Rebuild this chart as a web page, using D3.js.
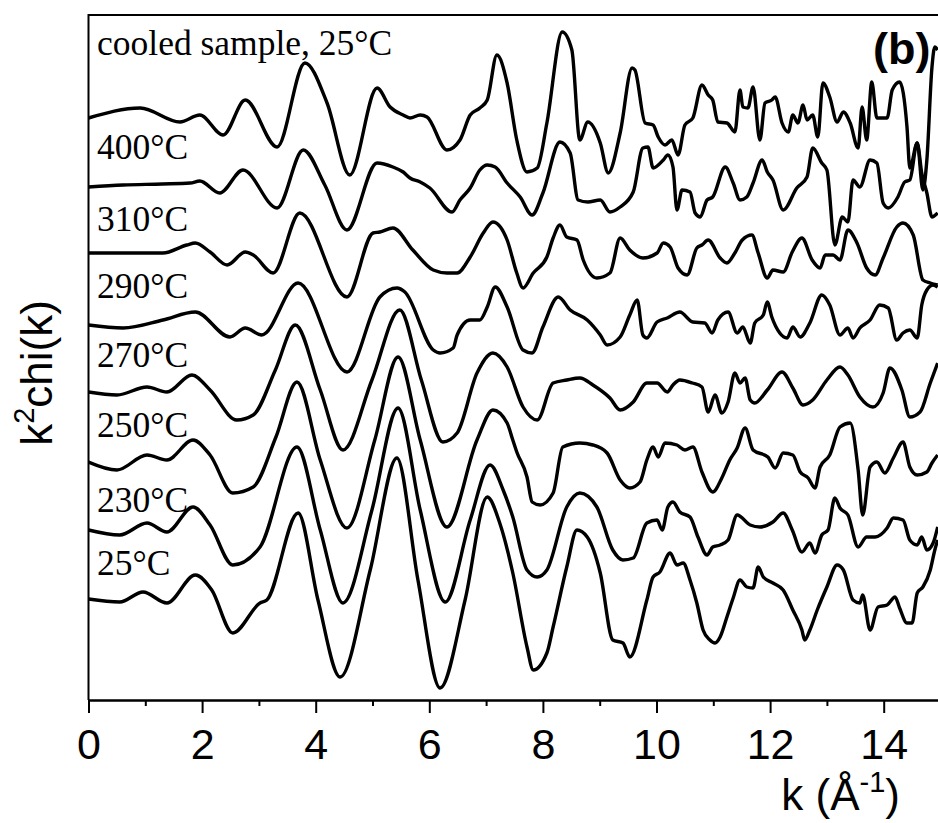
<!DOCTYPE html>
<meta charset="utf-8">
<style>
body { margin: 0; background: #fff; }
.frame { fill: none; stroke: #000; stroke-width: 2px; }
.curve { fill: none; stroke: #000; stroke-width: 3.4px; stroke-linejoin: round; }
.temp { font-family: "Liberation Serif", "Times New Roman", serif; font-size: 35.5px; }
.lab { font-family: "Liberation Sans", Arial, sans-serif; font-size: 44px; }
</style>
<body>
<script src="https://d3js.org/d3.v7.min.js"></script>
<script>
var width = 938,
    height = 823;

// k (1/A) and k^2 chi(k), each curve relative to its own offset
var sCooled = [[0,0],[0.91,1.0],[1.61,-0.4],[1.96,0.3],[2.37,-1.7],[2.76,1.8],[3.32,-2.9],[3.81,5.5],[4.20,1.5],[4.60,-5.7],[5.08,3.0],[5.31,1.1],[5.54,0.3],[5.66,0],[5.84,0.3],[5.96,0.1],[6.31,-3.2],[6.54,-2.2],[6.72,0.3],[6.89,1.0],[7.02,1.8],[7.19,6.3],[7.37,3.5],[7.54,-2.2],[7.72,-5.4],[7.90,-5.0],[8.07,-0.5],[8.34,8.6],[8.51,6.8],[8.65,-2.2],[8.79,-0.4],[9.01,-2.5],[9.15,-5.5],[9.36,-1.5],[9.57,5.0],[9.62,4.8],[9.80,-0.5],[9.94,-0.7],[10.03,-1.9],[10.15,-2.7],[10.27,-2.2],[10.38,-3.7],[10.50,-0.7],[10.64,0],[10.80,3.3],[10.91,2.3],[10.99,1.8],[11.08,-0.4],[11.24,-0.5],[11.38,-1.4],[11.47,2.8],[11.52,1.1],[11.61,1.0],[11.70,3.1],[11.82,-2.2],[11.91,1.5],[12.03,1.8],[12.09,2.1],[12.21,-0.5],[12.32,-1.4],[12.40,0.3],[12.49,-0.5],[12.58,1.3],[12.65,-0.2],[12.75,0.3],[12.84,-1.9],[12.93,3.5],[13.05,2.1],[13.18,-0.4],[13.29,0.6],[13.41,-0.5],[13.55,-3.0],[13.62,1.1],[13.70,-2.2],[13.79,3.6],[13.88,0],[14.06,0],[14.15,2.8],[14.28,3.6],[14.41,-0.9],[14.46,-5.0],[14.59,-2.5],[14.69,-7.2],[14.76,-4.2],[14.85,5.1],[14.90,7.1],[14.95,6.8]];
var s400 = [[0,0],[0.61,0.2],[1.30,0.3],[1.79,0.4],[1.96,0.6],[2.31,-0.6],[2.72,1.7],[3.32,-2.1],[3.78,3.7],[4.16,0.2],[4.55,-4.3],[5.08,2.4],[5.36,2.0],[5.54,1.5],[5.66,0.9],[5.84,0.5],[6.01,-0.1],[6.40,-2.5],[6.54,-1.3],[6.72,-0.1],[6.89,1.7],[7.02,2.2],[7.16,2.0],[7.37,0.4],[7.60,-1.0],[7.81,-2.8],[8.00,-0.6],[8.30,4.5],[8.48,3.4],[8.62,-1.3],[8.79,-1.5],[9.01,-1.3],[9.18,-2.5],[9.36,-2.0],[9.59,-0.5],[9.76,3.9],[9.85,4.0],[9.94,1.9],[10.12,2.7],[10.20,3.2],[10.29,2.0],[10.36,-2.3],[10.45,-0.3],[10.59,-0.5],[10.68,-2.6],[10.77,-3.0],[10.89,-1.3],[10.99,-1.0],[11.21,2.0],[11.35,0.4],[11.47,-1.3],[11.59,-1.0],[11.70,0.4],[11.86,2.7],[11.95,1.5],[12.05,0.7],[12.23,-2.3],[12.47,-0.1],[12.65,1.0],[12.75,3.9],[12.91,2.4],[13.00,1.7],[13.14,-5.8],[13.27,-3.0],[13.37,-3.5],[13.46,0.7],[13.58,0],[13.76,2.7],[13.88,2.4],[13.99,-1.6],[14.08,-2.1],[14.25,-1.0],[14.37,0.5],[14.46,0.7],[14.59,4.4],[14.67,1.4],[14.76,-0.6],[14.85,-3.0],[14.95,-2.6]];
var s310 = [[0,0],[1.31,0],[1.73,0.8],[1.88,1.0],[2.14,0.1],[2.44,-1.2],[2.76,0.1],[2.90,-0.2],[3.25,-2.0],[3.72,4.0],[4.55,-4.4],[5.01,2.0],[5.13,2.1],[5.36,2.5],[5.71,0.3],[6.07,-1.7],[6.31,-2.0],[6.49,-2.0],[6.72,-0.4],[6.95,2.0],[7.12,3.1],[7.37,1.3],[7.54,-2.0],[7.65,-3.5],[7.83,-2.0],[8.07,-0.4],[8.18,1.5],[8.30,2.8],[8.42,1.6],[8.60,1.3],[8.71,-0.7],[8.95,-2.5],[9.18,-2.0],[9.36,1.5],[9.53,0.3],[9.76,-0.5],[10.01,0],[10.12,1.0],[10.24,0.6],[10.38,-1.5],[10.54,-2.2],[10.71,0.5],[10.80,0.8],[10.91,1.3],[11.12,-0.5],[11.24,-1.0],[11.38,0],[11.51,1.3],[11.68,1.8],[11.79,0],[11.95,-2.5],[12.05,-1.7],[12.23,-1.9],[12.39,0.1],[12.56,1.5],[12.74,-0.7],[12.88,-1.5],[12.97,-0.2],[13.11,-0.2],[13.23,-0.7],[13.37,2.3],[13.53,1.0],[13.70,-1.5],[13.85,-2.2],[13.99,-0.5],[14.23,2.6],[14.34,3.0],[14.52,1.8],[14.69,-2.7],[14.82,-3.0],[14.95,-3.2]];
var s290 = [[0,0],[0.61,-0.3],[1.31,0.5],[1.88,1.3],[2.49,-1.2],[2.76,-0.3],[3.05,-1.0],[3.69,4.2],[4.55,-4.7],[5.13,2.8],[5.43,3.7],[5.57,3.3],[6.07,-2.5],[6.19,-2.8],[6.42,-2.3],[6.49,-1.0],[6.72,0.5],[6.89,0.5],[7.02,1.8],[7.16,3.8],[7.37,1.8],[7.65,-2.5],[7.81,-2.8],[8.00,-0.2],[8.27,2.8],[8.48,1.5],[8.78,0.5],[9.01,-1.0],[9.13,-2.0],[9.36,-1.2],[9.53,1.0],[9.66,2.5],[9.76,-1.0],[9.83,-1.3],[10.01,0.3],[10.19,0.7],[10.41,1.3],[10.64,0.3],[10.85,0.2],[10.98,-0.8],[11.08,0.5],[11.26,1.3],[11.42,-0.8],[11.52,-0.2],[11.65,-1.8],[11.73,0.2],[11.88,1.0],[11.95,2.3],[12.03,0.8],[12.17,-0.8],[12.30,-1.3],[12.40,-0.2],[12.53,-1.2],[12.70,0.2],[12.91,3.0],[13.05,2.0],[13.23,-1.0],[13.37,-0.3],[13.46,-1.3],[13.58,-0.3],[13.76,0.5],[13.93,2.0],[14.08,1.7],[14.23,-1.5],[14.34,-0.8],[14.46,-0.5],[14.59,-1.3],[14.67,2.0],[14.76,3.5],[14.87,4.0],[14.95,3.8]];
var s270 = [[0,0],[0.50,-0.3],[1.03,0.5],[1.38,0],[1.82,1.7],[2.14,0.2],[2.61,-2.8],[2.90,-2.3],[3.29,2.2],[3.64,6.7],[4.08,0.2],[4.48,-5.8],[4.99,1.2],[5.48,8.2],[5.86,1.2],[6.24,-5.0],[6.49,-4.1],[6.84,1.9],[7.12,3.9],[7.37,2.5],[7.65,-1.5],[7.90,-2.8],[8.18,0.9],[8.42,1.2],[8.65,1.4],[8.88,0.7],[9.18,-0.6],[9.36,-1.8],[9.59,-1.0],[9.83,0.9],[10.01,0.9],[10.19,0],[10.29,0.7],[10.41,1.2],[10.63,0.9],[10.80,0.5],[10.91,-2.0],[11.03,-0.3],[11.15,-2.1],[11.26,-1.0],[11.38,1.9],[11.47,0.9],[11.56,1.4],[11.65,-0.8],[11.73,-1.1],[11.95,0.2],[12.21,2.0],[12.40,0.4],[12.58,-1.3],[12.75,-0.8],[13.00,1.2],[13.23,2.5],[13.37,1.7],[13.58,-0.5],[13.81,-1.5],[13.99,-0.1],[14.11,2.4],[14.32,0.2],[14.46,-2.5],[14.64,-2.0],[14.82,0.9],[14.95,2.9]];
var s250 = [[0,0],[0.50,-0.8],[1.03,0.7],[1.38,0.2],[1.84,2.2],[2.14,0.7],[2.54,-3.1],[2.90,-2.5],[3.30,2.5],[3.67,8.0],[4.08,0.2],[4.55,-6.6],[5.04,2.2],[5.45,10.5],[5.84,2.2],[6.31,-6.5],[6.84,2.2],[7.12,5.2],[7.37,3.9],[7.47,2.2],[7.54,1.0],[7.72,-1.5],[7.81,-4.0],[7.95,-4.3],[8.18,-3.1],[8.35,1.5],[8.65,1.9],[8.88,1.7],[9.13,0.9],[9.36,-1.8],[9.53,-2.6],[9.71,-2.0],[9.83,0.2],[9.94,1.5],[10.03,0.5],[10.15,1.9],[10.36,1.7],[10.50,1.2],[10.64,1.5],[10.80,-1.0],[10.99,-3.0],[11.15,-1.6],[11.29,0.2],[11.42,1.4],[11.56,3.4],[11.70,1.2],[11.96,0.5],[12.09,-0.6],[12.23,0.9],[12.40,0.7],[12.53,-1.0],[12.67,-1.6],[12.79,-2.6],[12.88,-0.5],[13.05,0.7],[13.23,3.5],[13.41,3.9],[13.55,-0.8],[13.63,-5.3],[13.76,-0.5],[13.88,0],[14.02,-1.1],[14.17,0.4],[14.34,2.0],[14.46,-0.5],[14.59,-1.3],[14.76,-1.0],[14.85,-0.1],[14.95,0.7]];
var s230 = [[0,0],[0.55,-0.5],[1.03,0.7],[1.38,-0.2],[1.84,2.3],[2.14,0.5],[2.54,-3.5],[3.02,-1.7],[3.67,8.3],[4.08,0],[4.48,-7.3],[4.99,2.0],[5.45,12.2],[5.84,2.0],[6.28,-7.2],[6.72,1.0],[7.07,6.5],[7.30,4.0],[7.47,1.3],[7.72,-4.0],[7.90,-4.7],[8.07,-4.0],[8.42,2.3],[8.65,3.7],[8.95,2.3],[9.23,-2.0],[9.41,-3.0],[9.59,-2.8],[9.83,0.7],[10.01,1.0],[10.10,0],[10.20,2.3],[10.29,2.8],[10.41,1.8],[10.59,1.3],[10.73,-0.7],[10.89,-2.5],[10.99,-1.7],[11.12,-1.5],[11.26,-1.0],[11.42,1.5],[11.65,0.5],[11.82,0.3],[12.05,0.8],[12.23,1.7],[12.39,0],[12.56,-2.2],[12.70,-1.3],[12.79,-2.3],[12.91,-0.5],[13.02,0],[13.14,3.2],[13.23,2.2],[13.37,1.5],[13.55,-1.7],[13.70,-0.7],[13.85,-0.7],[14.06,0.2],[14.17,1.2],[14.34,1.0],[14.46,-1.0],[14.59,-1.5],[14.67,-0.7],[14.76,-2.0],[14.87,-1.3],[14.95,0.3]];
var s25 = [[0,0],[0.55,-0.3],[0.96,0.7],[1.38,-0.4],[1.88,2.4],[2.17,0.9],[2.54,-3.4],[3.02,-0.4],[3.14,-0.1],[3.69,8.6],[4.04,-0.1],[4.43,-7.8],[4.96,2.9],[5.43,14.1],[5.80,1.9],[6.19,-8.9],[6.63,-0.1],[7.02,10.2],[7.24,7.6],[7.47,2.6],[7.72,-4.8],[7.83,-7.1],[8.07,-5.4],[8.18,-2.8],[8.42,3.2],[8.60,6.9],[8.78,6.2],[9.01,2.6],[9.23,-4.1],[9.41,-4.4],[9.53,-5.8],[9.83,-0.1],[9.94,2.2],[10.06,2.7],[10.24,4.6],[10.36,3.4],[10.47,3.6],[10.59,1.9],[10.71,-0.4],[10.82,-3.1],[10.94,-4.1],[11.03,-4.4],[11.12,-3.8],[11.24,-1.8],[11.35,0.1],[11.47,1.9],[11.59,1.2],[11.70,1.1],[11.79,3.2],[11.88,2.2],[12.05,1.6],[12.23,0.9],[12.40,-1.1],[12.56,-3.1],[12.61,-4.1],[12.70,-3.1],[12.83,-1.1],[13.00,1.2],[13.18,3.4],[13.29,2.9],[13.46,-0.1],[13.58,-0.4],[13.63,0.4],[13.76,-3.1],[13.90,-0.8],[14.06,-0.6],[14.20,0.2],[14.28,-0.9],[14.41,-2.4],[14.50,-2.4],[14.59,0.6],[14.69,1.2],[14.82,2.9],[14.90,4.9],[14.95,5.9]];

var series = [sCooled, s400, s310, s290, s270, s250, s230, s25];
var offsets = [58.2, 51.3, 44.7, 37.5, 30.8, 23.8, 17.0, 10.1];
var labels = ["cooled sample, 25\u00b0C", "400\u00b0C", "310\u00b0C", "290\u00b0C", "270\u00b0C", "250\u00b0C", "230\u00b0C", "25\u00b0C"];
var labelLift = [6.3, 2.8, 2.2, 2.7, 2.5, 2.5, 1.8, 2.4];
var majorTicks = [0, 2, 4, 6, 8, 10, 12, 14];
var minorTicks = [1, 3, 5, 7, 9, 11, 13, 15];

var x = d3.scaleLinear().domain([0, 15]).range([88.5, 940.5]);
var y = d3.scaleLinear().domain([0, 68.5]).range([700, 15]);

var svg = d3.select("body").append("svg")
    .attr("width", width)
    .attr("height", height);

svg.append("clipPath").attr("id", "plot")
  .append("rect")
    .attr("x", x(0)).attr("y", y(68.5))
    .attr("width", x(15) - x(0)).attr("height", y(0) - y(68.5));

series.forEach(function(s, i) {
  var line = d3.line()
      .curve(d3.curveMonotoneX)
      .x(function(d) { return x(d[0]); })
      .y(function(d) { return y(d[1] + offsets[i]); });
  svg.append("path")
      .datum(s)
      .attr("class", "curve")
      .attr("clip-path", "url(#plot)")
      .attr("d", line);
});

svg.selectAll(".temp")
    .data(labels)
  .enter().append("text")
    .attr("class", "temp")
    .attr("x", x(0.15))
    .attr("y", function(d, i) { return y(offsets[i] + labelLift[i]); })
    .text(function(d) { return d; });

// frame: left and top edges, bottom comes from the axis
svg.append("path")
    .attr("class", "frame")
    .attr("d", "M" + x(0) + "," + y(0) + "V" + y(68.5) + "H" + x(15));

var ax = svg.append("g")
    .attr("transform", "translate(0," + y(0) + ")")
    .call(d3.axisBottom(x).tickValues(majorTicks).tickSize(13).tickPadding(15).tickSizeOuter(0));
svg.append("g")
    .attr("transform", "translate(0," + y(0) + ")")
    .call(d3.axisBottom(x).tickValues(minorTicks).tickSize(6).tickFormat("").tickSizeOuter(0));
svg.selectAll(".domain, .tick line").attr("stroke", "#000").attr("stroke-width", 2);
ax.selectAll("text")
    .attr("font-family", "'Liberation Sans', Arial, sans-serif")
    .attr("font-size", 43)
    .attr("fill", "#000");

var xl = svg.append("text")
    .attr("class", "lab")
    .attr("text-anchor", "end")
    .attr("x", 900)
    .attr("y", 810);
xl.append("tspan").text("k (\u00c5");
xl.append("tspan").attr("dy", -18).attr("font-size", 29).text("-1");
xl.append("tspan").attr("dy", 18).text(")");

var yl = svg.append("text")
    .attr("class", "lab")
    .attr("text-anchor", "middle")
    .attr("transform", "translate(52,373) rotate(-90)");
yl.append("tspan").text("k");
yl.append("tspan").attr("dy", -18).attr("font-size", 29).text("2");
yl.append("tspan").attr("dy", 18).text("chi(k)");

svg.append("text")
    .attr("x", 873)
    .attr("y", 64)
    .attr("font-family", "'Liberation Sans', Arial, sans-serif")
    .attr("font-weight", "bold")
    .attr("font-size", 45)
    .text("(b)");
</script>
